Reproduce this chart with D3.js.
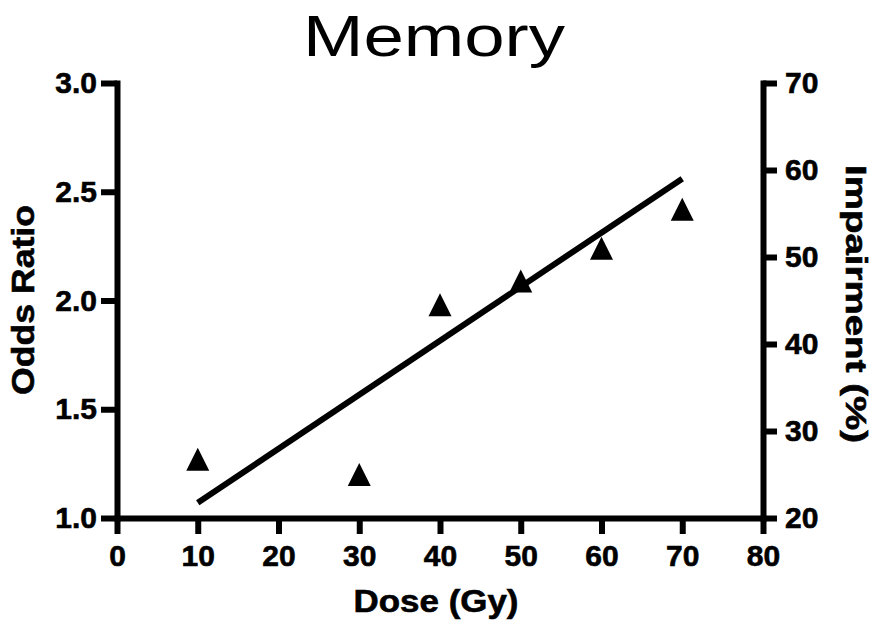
<!DOCTYPE html>
<html>
<head>
<meta charset="utf-8">
<script src="https://cdn.jsdelivr.net/npm/d3@7"></script>
<style>
  body { margin: 0; background: #fff; }
  text { font-family: "Liberation Sans", Arial, sans-serif; fill: #000; }
  .heavy { stroke: #000; stroke-width: 0.6px; }
</style>
</head>
<body>
<div id="chart"></div>
<script>
// data
const doses = [10, 30, 40, 50, 60, 70];
const oddsRatio = [1.27, 1.20, 1.98, 2.09, 2.24, 2.42];
const fitDose = [10, 70];
const fitOdds = [1.07, 2.56];

const xTicks = [0, 10, 20, 30, 40, 50, 60, 70, 80];
const leftTicks = [1.0, 1.5, 2.0, 2.5, 3.0];
const rightTicks = [20, 30, 40, 50, 60, 70];

const margin = {top: 83, right: 110, bottom: 104, left: 117};
const W = 873, H = 622;
const width = W - margin.left - margin.right,
  height = H - margin.top - margin.bottom;

const svg = d3.select('#chart')
  .append('svg')
  .attr('width', W)
  .attr('height', H);

const g = svg.append('g')
  .attr('transform', 'translate(' + margin.left + ',' + margin.top + ')');

const x = d3.scaleLinear().domain([0, 80]).range([0, width]);
const yL = d3.scaleLinear().domain([1, 3]).range([height, 0]);
const yR = d3.scaleLinear().domain([20, 70]).range([height, 0]);

//axes
function styleAxis(sel) {
  sel.attr('font-family', null).attr('font-size', null);
  sel.select('.domain').attr('stroke-width', 6).attr('stroke-linecap', 'square');
  sel.selectAll('.tick line').attr('stroke-width', 6);
  sel.selectAll('.tick text')
    .attr('class', 'heavy')
    .style('font-size', '30px')
    .style('font-weight', 'bold');
}

g.append('g')
  .attr('transform', 'translate(0,' + height + ')')
  .call(d3.axisBottom(x).tickValues(xTicks).tickSize(16).tickSizeOuter(0).tickPadding(11).tickFormat(d3.format('d')))
  .call(styleAxis);

g.append('g')
  .call(d3.axisLeft(yL).tickValues(leftTicks).tickSize(16).tickSizeOuter(0).tickPadding(4).tickFormat(d3.format('.1f')))
  .call(styleAxis);

g.append('g')
  .attr('transform', 'translate(' + width + ',0)')
  .call(d3.axisRight(yR).tickValues(rightTicks).tickSize(14).tickSizeOuter(0).tickPadding(8).tickFormat(d3.format('d')))
  .call(styleAxis);

//fitted line
const line = d3.line()
  .x(function (d) { return x(d[0]); })
  .y(function (d) { return yL(d[1]); });

g.append('path')
  .datum(d3.zip(fitDose, fitOdds))
  .attr('d', line)
  .attr('fill', 'none')
  .attr('stroke', '#000')
  .attr('stroke-width', 6);

//triangle markers, box centred on the point
const tri = {
  draw: function (ctx, size) {
    const w = Math.sqrt(size);
    ctx.moveTo(0, -w / 2);
    ctx.lineTo(w / 2, w / 2);
    ctx.lineTo(-w / 2, w / 2);
    ctx.closePath();
  }
};

g.selectAll('.pt')
  .data(d3.zip(doses, oddsRatio))
  .enter().append('path')
  .attr('class', 'pt')
  .attr('transform', function (d) {
    return 'translate(' + x(d[0]) + ',' + yL(d[1]) + ')';
  })
  .attr('d', d3.symbol().type(tri).size(23 * 23))
  .attr('fill', '#000');

//labels (the original is stretched sideways, so fix their widths)
svg.append('text')
  .attr('x', 434)
  .attr('y', 56)
  .attr('text-anchor', 'middle')
  .attr('textLength', 262)
  .attr('lengthAdjust', 'spacingAndGlyphs')
  .style('font-size', '58px')
  .text('Memory');

svg.append('text')
  .attr('class', 'heavy')
  .attr('x', 436)
  .attr('y', 612)
  .attr('text-anchor', 'middle')
  .attr('textLength', 165)
  .attr('lengthAdjust', 'spacingAndGlyphs')
  .style('font-size', '32px')
  .style('font-weight', 'bold')
  .text('Dose (Gy)');

svg.append('text')
  .attr('class', 'heavy')
  .attr('transform', 'translate(34,300) rotate(-90)')
  .attr('text-anchor', 'middle')
  .attr('textLength', 190)
  .attr('lengthAdjust', 'spacingAndGlyphs')
  .style('font-size', '32px')
  .style('font-weight', 'bold')
  .text('Odds Ratio');

svg.append('text')
  .attr('class', 'heavy')
  .attr('transform', 'translate(846,304) rotate(90)')
  .attr('text-anchor', 'middle')
  .attr('textLength', 278)
  .attr('lengthAdjust', 'spacingAndGlyphs')
  .style('font-size', '30px')
  .style('font-weight', 'bold')
  .text('Impairment (%)');
</script>
</body>
</html>
